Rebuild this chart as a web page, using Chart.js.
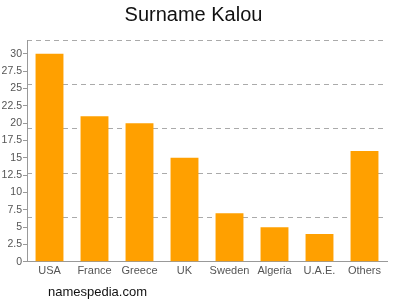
<!DOCTYPE html>
<html>
<head>
<meta charset="utf-8">
<script src="https://cdn.jsdelivr.net/npm/chart.js@4.4.1/dist/chart.umd.min.js"></script>
<style>
  html, body { margin: 0; padding: 0; background: #fff; }
  #wrap { position: relative; width: 400px; height: 300px; }
  #footer {
    position: absolute; left: 48px; top: 284px;
    font: 13px "Liberation Sans", Arial, sans-serif; color: #111;
  }
</style>
</head>
<body>
<div id="wrap">
  <canvas id="chart" width="400" height="300"></canvas>
  <div id="footer">namespedia.com</div>
</div>
<script>
// Surname Kalou - count per country
const countries = ['USA', 'France', 'Greece', 'UK', 'Sweden', 'Algeria', 'U.A.E.', 'Others'];
const counts = [30, 21, 20, 15, 7, 5, 4, 16];
const yTicks = [0, 2.5, 5, 7.5, 10, 12.5, 15, 17.5, 20, 22.5, 25, 27.5, 30];
const yMax = 32;

const font = '"Liberation Sans", Arial, sans-serif';

new Chart(document.getElementById('chart'), {
    type: 'bar',
    data: {
        labels: countries,
        datasets: [{
            data: counts,
            backgroundColor: '#ffa000',
            borderWidth: 0,
            categoryPercentage: 1,
            barPercentage: 0.62
        }]
    },
    options: {
        responsive: false,
        animation: false,
        layout: { padding: { left: 0, right: 13, top: 3, bottom: 19 } },
        plugins: {
            legend: { display: false },
            tooltip: { enabled: false },
            title: {
                display: true,
                text: 'Surname Kalou',
                color: '#111',
                font: { family: font, size: 20, weight: 'normal' },
                padding: { top: 0, bottom: 13 }
            }
        },
        scales: {
            x: {
                grid: { display: false, drawTicks: false },
                border: { color: '#999' },
                ticks: { color: '#555', font: { family: font, size: 11 }, padding: 3, maxRotation: 0, autoSkip: false }
            },
            y: {
                min: 0,
                max: yMax,
                afterBuildTicks: (axis) => { axis.ticks = yTicks.map(v => ({ value: v })); },
                afterFit: (axis) => { axis.width = 27; },
                grid: { drawOnChartArea: false, drawTicks: true, tickLength: 4, color: '#999' },
                border: { color: '#999' },
                ticks: { color: '#555', font: { family: font, size: 10.5 }, padding: 1 }
            },
            // grid lines split the range in five, independent of the labels
            yg: {
                position: 'right',
                min: 0,
                max: yMax,
                afterBuildTicks: (axis) => {
                    const t = [];
                    for (let i = 1; i <= 5; i++) t.push({ value: yMax * i / 5 });
                    axis.ticks = t;
                },
                afterFit: (axis) => { axis.width = 0; },
                ticks: { display: false },
                border: { display: false, dash: [5, 4] },
                grid: { drawTicks: false, color: '#aaa', tickLength: 0 }
            }
        }
    }
});
</script>
</body>
</html>
